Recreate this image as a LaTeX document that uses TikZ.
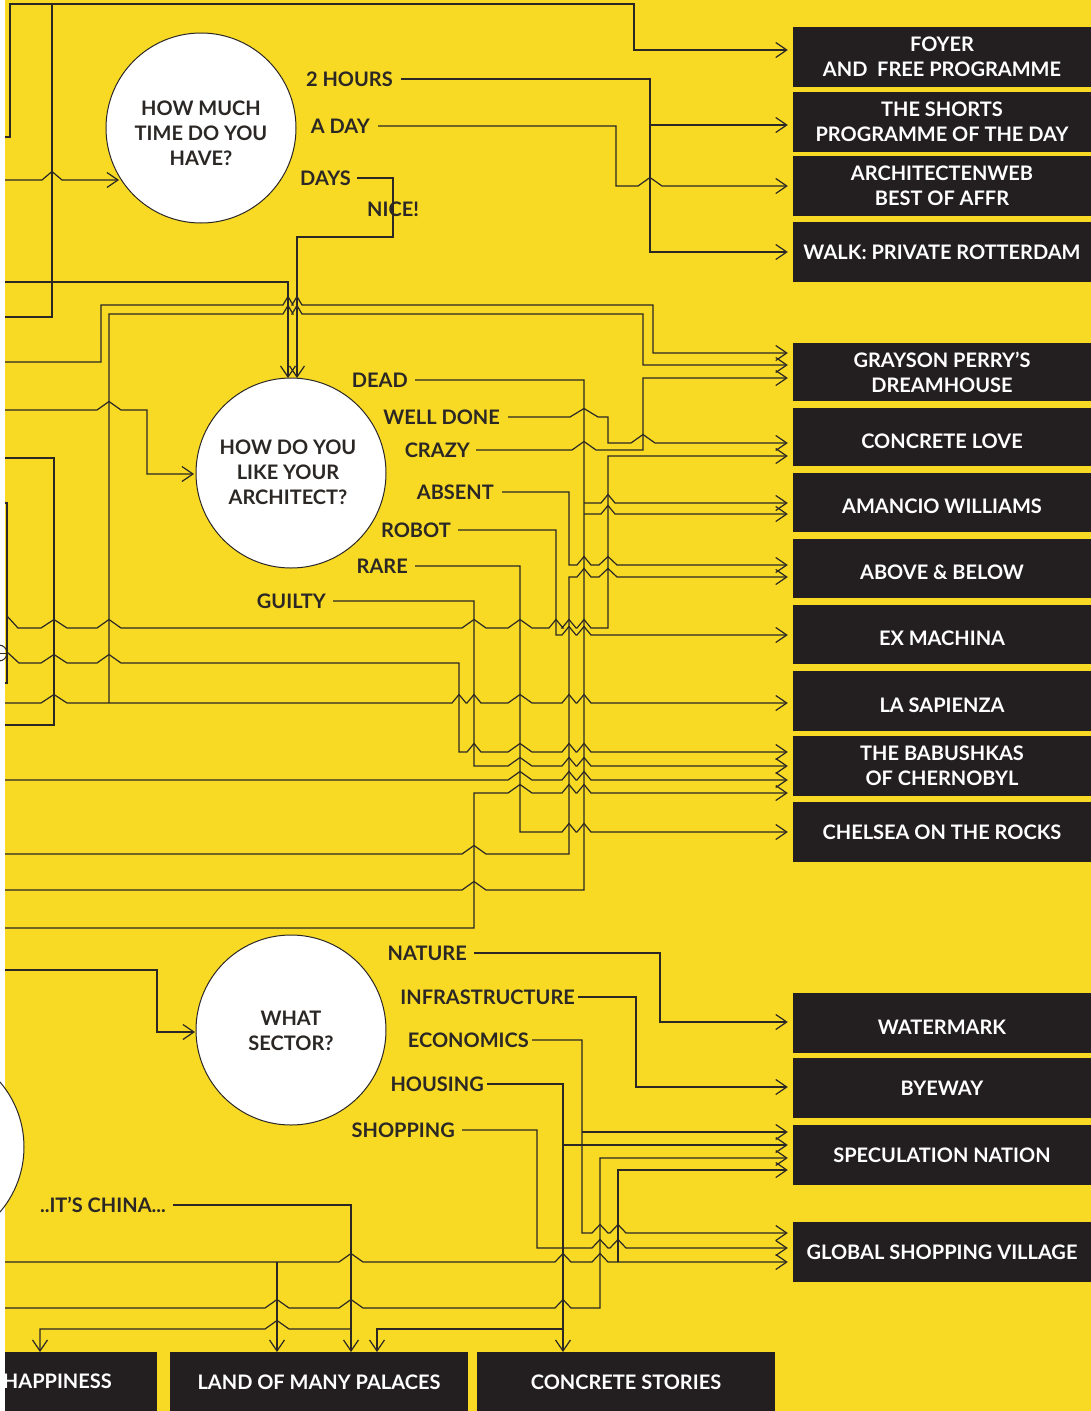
\documentclass[tikz,border=0pt]{standalone}
\usepackage{fontspec}
\setmainfont{Lato}
\usetikzlibrary{arrows.meta,positioning}
\definecolor{bg}{HTML}{F8DA25}
\definecolor{ink}{HTML}{2A2725}
\definecolor{boxc}{HTML}{231F20}
\tikzset{
  wire/.style={draw=ink, line width=1.2pt},
  tip/.style={-{Straight Barb[length=11pt,width=15pt]}},
  rtip/.style={{Straight Barb[length=11pt,width=15pt]}-},
  arr/.style={wire, tip, shorten >=5pt},
  hop/.style={to path={-- ([xshift=-#1pt]\tikztotarget) -- ([yshift=8.5pt]\tikztotarget) -- ([xshift=#1pt]\tikztotarget)}},
  hop/.default=12,
  lbl/.style={inner sep=0pt, text=ink, font=\fontsize{20}{25}\selectfont\bfseries, text height=14.5pt, text depth=0pt},
  box/.style={fill=boxc, text=white, minimum width=298pt, minimum height=60pt, inner sep=0pt, align=center, font=\fontsize{20}{25}\selectfont\bfseries},
  lowbox/.style={box, text height=22.5pt, text depth=0pt},
  ques/.style={circle, draw=ink, line width=1pt, fill=white, minimum size=190pt, inner sep=0pt},
  qtxt/.style={inner sep=0pt, align=center, text=ink, font=\fontsize{20}{25}\selectfont\bfseries}
}
\begin{document}
\begin{tikzpicture}[x=1pt,y=-1pt]
\useasboundingbox (0,0) rectangle (1091,1411);
\fill[white] (0,0) rectangle (1091,1411);
\fill[bg] (5,0) rectangle (1091,1411);

\node[ques] (q1) at (201,128) {};
\node[qtxt] (q1txt) at (201,133) {HOW MUCH\\TIME DO YOU\\HAVE?};
\node[ques] (q2) at (291,473) {};
\node[qtxt] (q2txt) at (288,472) {HOW DO YOU\\LIKE YOUR\\ARCHITECT?};
\node[ques] (q3) at (291,1030) {};
\node[qtxt] (q3txt) at (291,1031) {WHAT\\SECTOR?};
\draw[draw=ink, fill=white, line width=1pt] (-76,1147) circle (100pt);
\draw[draw=ink, line width=1pt] (-1,653) circle (8pt);
\draw[draw=ink, line width=1pt] (-9,653) -- (7,653);

\node[lbl, anchor=east] (hours) at (393,79) {2 HOURS};
\node[lbl, anchor=east] (aday) at (370,126) {A DAY};
\node[lbl, anchor=east] (days) at (351,178) {DAYS};
\node[lbl] (nice) at (393,209) {NICE!};
\node[lbl, anchor=east] (dead) at (408,380) {DEAD};
\node[lbl, anchor=east] (welldone) at (500,417) {WELL DONE};
\node[lbl, anchor=east] (crazy) at (470,450) {CRAZY};
\node[lbl, anchor=east] (absent) at (494,492) {ABSENT};
\node[lbl, anchor=east] (robot) at (451,530) {ROBOT};
\node[lbl, anchor=east] (rare) at (408,566) {RARE};
\node[lbl, anchor=east] (guilty) at (326,601) {GUILTY};
\node[lbl, anchor=east] (nature) at (467,953) {NATURE};
\node[lbl, anchor=east] (infra) at (575,997) {INFRASTRUCTURE};
\node[lbl, anchor=east] (econ) at (529,1040) {ECONOMICS};
\node[lbl, anchor=east] (housing) at (484,1084) {HOUSING};
\node[lbl, anchor=east] (shopping) at (455,1130) {SHOPPING};
\node[lbl, anchor=east] (china) at (166,1205) {..IT’S CHINA...};

\node[box] (foyer) at (942,57) {FOYER\\AND\ \ FREE PROGRAMME};
\node[box] (shorts) at (942,122) {THE SHORTS\\PROGRAMME OF THE DAY};
\node[box] (affr) at (942,186) {ARCHITECTENWEB\\BEST OF AFFR};
\node[box] (walk) at (942,252) {WALK: PRIVATE ROTTERDAM};
\node[box, minimum height=58pt] (grayson) at (942,372) {GRAYSON PERRY’S\\DREAMHOUSE};
\node[lowbox, minimum height=58pt] (clove) at (942,437) {CONCRETE LOVE};
\node[lowbox, minimum height=59pt] (amancio) at (942,502.5) {AMANCIO WILLIAMS};
\node[lowbox, minimum height=59pt] (above) at (942,568.5) {ABOVE \& BELOW};
\node[lowbox, minimum height=59pt] (machina) at (942,634.5) {EX MACHINA};
\node[lowbox] (sapienza) at (942,701) {LA SAPIENZA};
\node[box] (babushka) at (942,766) {THE BABUSHKAS\\OF CHERNOBYL};
\node[box] (chelsea) at (942,832) {CHELSEA ON THE ROCKS};
\node[lowbox] (watermark) at (942,1023) {WATERMARK};
\node[box] (byeway) at (942,1088) {BYEWAY};
\node[box] (spec) at (942,1155) {SPECULATION NATION};
\node[box] (global) at (942,1252) {GLOBAL SHOPPING VILLAGE};
\node[box, minimum width=152pt] (happy) at (81,1382) {};
\node[lbl, text=white, anchor=east] (happytxt) at (112,1381) {HAPPINESS};
\node[box] (land) at (319,1382) {LAND OF MANY PALACES};
\node[box] (stories) at (626,1382) {CONCRETE STORIES};

\draw[arr] (5,137) -- (10,137) -- (10,4) -- (634,4) -- (634,50) -- (foyer.west |- 0,50);
\draw[wire] (5,317) -- (52,317) -- (52,4);
\draw[wire, tip] (5,180) to[hop=10] (52,180) -- (119,180);
\draw[arr] ([xshift=8pt]hours.east) -- (650,79) -- (650,252) -- (walk.west |- 0,252);
\draw[arr] (650,125) -- (shorts.west |- 0,125);
\draw[arr] ([xshift=8pt]aday.east) -- (616,126) -- (616,186) to[hop] (650,186) -- (affr.west |- 0,186);
\draw[wire, tip] ([xshift=6pt]days.east) -- (393,178) -- (393,237) -- (297,237) -- (297,378);
\draw[wire, tip] (5,282) -- (288,282) -- (288,378);
\draw[arr] (5,362) -- (101,362) -- (101,305) to[hop=5] (288,305) to[hop=5] (297,305) -- (653,305) -- (653,353) -- (grayson.west |- 0,353);
\draw[arr] (109,703) -- (109,314) to[hop=5] (288,314) to[hop=5] (297,314) -- (643,314) -- (643,365) -- (grayson.west |- 0,365);
\draw[wire, tip] (5,410) to[hop] (109,410) -- (147,410) -- (147,474) -- (194,474);

\draw[wire] (5,890) to[hop] (474,890) -- (584,890) -- (584,380) -- ([xshift=7pt]dead.east);
\draw[arr] (584,503) to[hop=7] (608,503) -- (amancio.west |- 0,503);
\draw[arr] (584,514) to[hop=7] (608,514) -- (amancio.west |- 0,514);
\draw[arr] ([xshift=8pt]welldone.east) to[hop=14] (584,417) -- (608,417) -- (608,443) to[hop] (643,443) -- (clove.west |- 0,443);
\draw[arr] ([xshift=6pt]crazy.east) to[hop] (584,450) -- (643,450) -- (643,378) -- (grayson.west |- 0,378);
\draw[arr] (7,616) -- (18,628) to[hop=13] (54,628) to[hop] (109,628) to[hop] (474,628) to[hop] (520,628) to[hop=7] (556,628) to[hop=7] (569,628) to[hop=7] (584,628) -- (608,628) -- (608,456) -- (clove.west |- 0,456);
\draw[arr] ([xshift=8pt]absent.east) -- (569,492) -- (569,565) to[hop=7] (584,565) to[hop=9] (608,565) -- (above.west |- 0,565);
\draw[arr] ([xshift=7pt]robot.east) -- (556,530) -- (556,635) to[hop=7] (569,635) to[hop=7] (584,635) -- (machina.west |- 0,635);
\draw[arr] ([xshift=7pt]rare.east) -- (520,566) -- (520,832) to[hop=7] (569,832) to[hop=7] (584,832) -- (chelsea.west |- 0,832);
\draw[arr] ([xshift=7pt]guilty.east) -- (474,601) -- (474,766) to[hop] (520,766) to[hop=7] (569,766) to[hop=7] (584,766) -- (babushka.west |- 0,766);
\draw[arr] (5,928) -- (474,928) -- (474,793) to[hop] (520,793) to[hop=7] (569,793) to[hop=7] (584,793) -- (babushka.west |- 0,793);
\draw[arr] (5,854) to[hop] (474,854) -- (569,854) -- (569,577) to[hop=7] (584,577) to[hop=9] (608,577) -- (above.west |- 0,577);
\draw[arr] (7,652) -- (19,663) to[hop=13] (54,663) to[hop] (109,663) -- (459,663) -- (459,752) to[hop=7] (474,752) to[hop] (520,752) to[hop=7] (569,752) to[hop=7] (584,752) -- (babushka.west |- 0,752);
\draw[arr] (5,703) to[hop=13] (54,703) -- (109,703) to[hop=7] (459,703) to[hop=7] (474,703) to[hop] (520,703) to[hop=7] (569,703) to[hop=7] (584,703) -- (sapienza.west |- 0,703);
\draw[arr] (5,780) to[hop] (520,780) to[hop=7] (569,780) to[hop=7] (584,780) -- (babushka.west |- 0,780);
\draw[wire] (5,458) -- (54,458) -- (54,725) -- (5,725);
\draw[wire] (5,503) -- (7,503) -- (7,683) -- (5,683);

\draw[wire, tip] (5,970) -- (157,970) -- (157,1032) -- (195,1032);
\draw[arr] ([xshift=7pt]nature.east) -- (660,953) -- (660,1022) -- (watermark.west |- 0,1022);
\draw[arr] ([xshift=3pt]infra.east) -- (636,997) -- (636,1087) -- (byeway.west |- 0,1087);
\draw[arr] ([xshift=3pt]econ.east) -- (582,1040) -- (582,1233) to[hop=8] (600,1233) to[hop=8] (618,1233) -- (global.west |- 0,1233);
\draw[arr] (582,1132) -- (spec.west |- 0,1132);
\draw[wire, tip] ([xshift=3pt]housing.east) -- (563,1084) -- (563,1352);
\draw[arr] (563,1145) -- (spec.west |- 0,1145);
\draw[wire, tip] (563,1329) -- (377,1329) -- (377,1352);
\draw[arr] ([xshift=7pt]shopping.east) -- (537,1130) -- (537,1248) to[hop=8] (600,1248) to[hop=8] (618,1248) -- (global.west |- 0,1248);
\draw[arr] (5,1262) to[hop] (351,1262) to[hop=8] (563,1262) to[hop=8] (600,1262) -- (global.west |- 0,1262);
\draw[wire, tip] (277,1262) -- (277,1352);
\draw[arr] (618,1262) -- (618,1170) -- (spec.west |- 0,1170);
\draw[arr] (5,1308) to[hop] (277,1308) to[hop] (351,1308) to[hop=8] (563,1308) -- (600,1308) -- (600,1158) -- (spec.west |- 0,1158);
\draw[wire, tip] ([xshift=7pt]china.east) -- (351,1205) -- (351,1352);
\draw[wire, rtip] (40,1352) -- (40,1329) to[hop] (277,1329) -- (351,1329);
\end{tikzpicture}
\end{document}
